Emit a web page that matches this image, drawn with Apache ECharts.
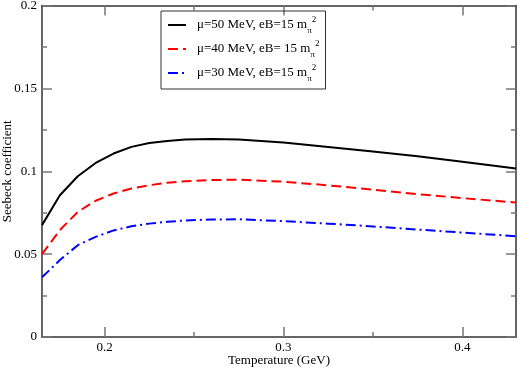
<!DOCTYPE html>
<html>
<head>
<meta charset="utf-8">
<script src="https://cdn.jsdelivr.net/npm/echarts@6/dist/echarts.min.js"></script>
<style>
  html, body { margin: 0; padding: 0; background: #fff; }
  #chart { width: 518px; height: 369px; }
</style>
</head>
<body>
<div id="chart"></div>
<script>
// temperature (GeV)
const temps = [0.165, 0.175, 0.185, 0.195, 0.205, 0.215, 0.225, 0.235, 0.245, 0.26, 0.275, 0.30, 0.325, 0.35, 0.375, 0.40, 0.43]
const mu50 = [0.0675, 0.0855, 0.097, 0.105, 0.1107, 0.1147, 0.117, 0.1183, 0.1191, 0.1195, 0.1192, 0.1173, 0.1147, 0.1119, 0.109, 0.1058, 0.1017]
const mu40 = [0.050, 0.0645, 0.0755, 0.0822, 0.0866, 0.0896, 0.0916, 0.093, 0.094, 0.0947, 0.0949, 0.0937, 0.0915, 0.0889, 0.0862, 0.0838, 0.0811]
const mu30 = [0.036, 0.0464, 0.0554, 0.0604, 0.0643, 0.0668, 0.0684, 0.0695, 0.0703, 0.0709, 0.071, 0.0699, 0.0684, 0.0667, 0.0648, 0.063, 0.0608]

const xMajor = [0.2, 0.3, 0.4]
const xMinor = [0.25, 0.35]

const names = ['mu50', 'mu40', 'mu30']
const legendText = {
  mu50: '{t|μ=50 MeV, eB=15 m}{sub|π}{sup|2}',
  mu40: '{t|μ=40 MeV, eB= 15 m}{sub|π}{sup|2}',
  mu30: '{t|μ=30 MeV, eB=15 m}{sub|π}{sup|2}'
}

const serif = 'Liberation Serif'
const lineColor = '#333'
const tickColor = '#777'

const pairs = (ys) => temps.map((t, i) => [t, ys[i]])

const xAxisBase = (pos, values, len, showLine) => ({
  type: 'value',
  position: pos,
  min: 0.165,
  max: 0.43,
  splitLine: { show: false },
  axisLine: { show: showLine, onZero: false, lineStyle: { color: lineColor, width: 1.5 } },
  axisTick: { show: true, inside: true, length: len, customValues: values, lineStyle: { color: tickColor, width: 1.5 } },
  axisLabel: { show: false }
})

const chart = echarts.init(document.getElementById('chart'))

const bottomMain = xAxisBase('bottom', xMajor, 10, true)
bottomMain.axisLabel = {
  show: true,
  customValues: xMajor,
  margin: 4,
  color: '#000',
  fontFamily: serif,
  fontSize: 13
}
bottomMain.name = 'Temperature (GeV)'
bottomMain.nameLocation = 'middle'
bottomMain.nameGap = 17
bottomMain.nameMoveOverlap = false
bottomMain.nameTextStyle = { color: '#000', fontFamily: serif, fontSize: 13 }

const yAxisBase = (pos) => ({
  type: 'value',
  position: pos,
  min: 0,
  max: 0.2,
  interval: 0.05,
  splitLine: { show: false },
  axisLine: { show: true, lineStyle: { color: lineColor, width: 1.5 } },
  axisTick: { show: true, inside: true, length: 10, lineStyle: { color: tickColor, width: 1.5 } },
  minorTick: { show: true, splitNumber: 2, length: 5, lineStyle: { color: tickColor, width: 1.5 } },
  axisLabel: { show: false }
})

const leftY = yAxisBase('left')
leftY.axisLabel = { show: true, margin: 5, color: '#000', fontFamily: serif, fontSize: 13 }
leftY.name = 'Seebeck coefficient'
leftY.nameLocation = 'middle'
leftY.nameGap = 28
leftY.nameMoveOverlap = false
leftY.nameTextStyle = { color: '#000', fontFamily: serif, fontSize: 13 }

const option = {
  animation: false,
  grid: { left: 42, right: 2, top: 5.5, bottom: 32, containLabel: false, outerBoundsMode: 'none' },
  legend: {
    orient: 'vertical',
    left: 161,
    top: 11,
    padding: [4, 6, 6, 6],
    itemGap: 4,
    itemWidth: 18,
    itemHeight: 12,
    borderColor: '#333',
    borderWidth: 1,
    data: names,
    itemStyle: { opacity: 0 },
    formatter: (name) => legendText[name],
    textStyle: {
      color: '#000',
      fontFamily: serif,
      rich: {
        t: { fontFamily: serif, fontSize: 13, lineHeight: 20, color: '#000', padding: [0, 0, 0, 6] },
        sub: { fontFamily: serif, fontSize: 9, lineHeight: 12, verticalAlign: 'bottom', color: '#000' },
        sup: { fontFamily: serif, fontSize: 9, lineHeight: 10, verticalAlign: 'top', color: '#000' }
      }
    }
  },
  xAxis: [
    bottomMain,
    xAxisBase('bottom', xMinor, 5, false),
    xAxisBase('top', xMajor, 10, true),
    xAxisBase('top', xMinor, 5, false)
  ],
  yAxis: [leftY, yAxisBase('right')],
  series: [
    {
      name: 'mu50',
      type: 'line',
      symbol: 'none',
      data: pairs(mu50),
      lineStyle: { color: '#000', width: 2, type: 'solid' },
      itemStyle: { color: '#000' }
    },
    {
      name: 'mu40',
      type: 'line',
      symbol: 'none',
      data: pairs(mu40),
      lineStyle: { color: '#ff0000', width: 2, type: [10, 5] },
      itemStyle: { color: '#ff0000' }
    },
    {
      name: 'mu30',
      type: 'line',
      symbol: 'none',
      data: pairs(mu30),
      lineStyle: { color: '#0000ff', width: 2, type: [10, 4, 2, 4] },
      itemStyle: { color: '#0000ff' }
    }
  ]
}

chart.setOption(option)
</script>
</body>
</html>
